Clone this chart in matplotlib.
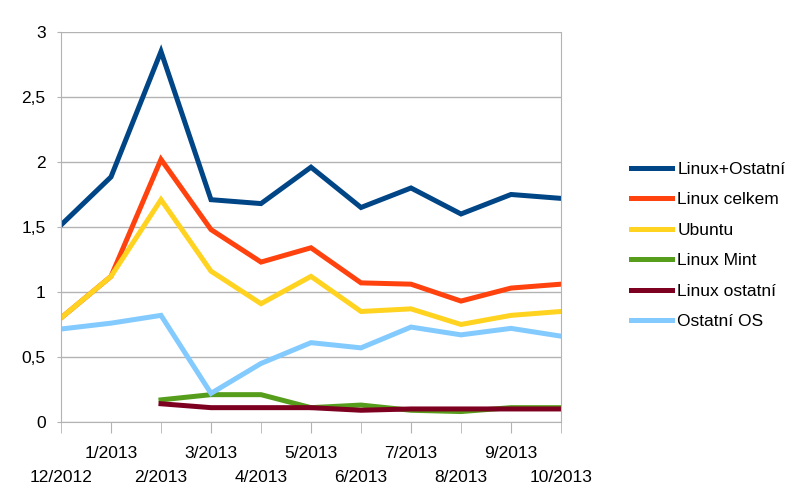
import numpy as np
import matplotlib.pyplot as plt
from matplotlib.ticker import FuncFormatter

plt.rcParams['font.family'] = ['Liberation Sans', 'DejaVu Sans']

# data
months = ['12/2012', '1/2013', '2/2013', '3/2013', '4/2013', '5/2013',
          '6/2013', '7/2013', '8/2013', '9/2013', '10/2013']
linux_ostatni_os = [1.515, 1.885, 2.85, 1.71, 1.68, 1.96, 1.65, 1.80, 1.60, 1.75, 1.72]
linux_celkem = [0.80, 1.12, 2.02, 1.48, 1.23, 1.34, 1.07, 1.06, 0.93, 1.03, 1.06]
ubuntu = [0.80, 1.12, 1.71, 1.16, 0.91, 1.12, 0.85, 0.87, 0.75, 0.82, 0.85]
linux_mint = [np.nan, np.nan, 0.17, 0.21, 0.21, 0.11, 0.13, 0.09, 0.08, 0.11, 0.11]
linux_ostatni = [np.nan, np.nan, 0.14, 0.11, 0.11, 0.11, 0.09, 0.10, 0.10, 0.10, 0.10]
ostatni_os = [0.715, 0.76, 0.82, 0.22, 0.45, 0.61, 0.57, 0.73, 0.67, 0.72, 0.66]

series = [('Linux+Ostatní', linux_ostatni_os, '#004586'),
          ('Linux celkem', linux_celkem, '#ff420e'),
          ('Ubuntu', ubuntu, '#ffd320'),
          ('Linux Mint', linux_mint, '#579d1c'),
          ('Linux ostatní', linux_ostatni, '#7e0021'),
          ('Ostatní OS', ostatni_os, '#83caff')]

fs = 12.5

fig = plt.figure(figsize=(8, 4.97), dpi=100)
ax = fig.add_axes([0.07625, 0.151, 0.625, 0.7846])

x = np.arange(len(months))
for name, vals, col in series:
    ax.plot(x, vals, color=col, linewidth=3.6, label=name, solid_joinstyle='miter')

ax.set_xlim(0, len(months) - 1)
ax.set_ylim(0, 3)
ax.set_yticks(np.arange(0, 3.01, 0.5))
ax.yaxis.set_major_formatter(FuncFormatter(lambda v, p: ('%g' % v).replace('.', ',')))
ax.grid(axis='y', color='#b3b3b3', linewidth=1)
ax.set_axisbelow(True)

# month labels on two rows: odd months on top row (major), even ones below (minor)
ax.set_xticks(x[1::2])
ax.set_xticklabels(months[1::2])
ax.set_xticks(x[0::2], minor=True)
ax.set_xticklabels(months[0::2], minor=True)
ax.tick_params(axis='x', which='both', length=8, color='#b3b3b3', labelsize=fs)
ax.tick_params(axis='x', which='major', pad=9)
ax.tick_params(axis='x', which='minor', pad=26.5)
ax.tick_params(axis='y', length=3, color='#b3b3b3', pad=8, labelsize=fs)

ax.spines['top'].set_visible(False)
for s in ['left', 'right', 'bottom']:
    ax.spines[s].set_color('#b3b3b3')

fig.legend(loc='center left', bbox_to_anchor=(0.789, 0.506), frameon=False,
           fontsize=fs, handlelength=2.35, handletextpad=0.3, labelspacing=0.88,
           borderpad=0, borderaxespad=0)

fig.savefig('out.png', dpi=100)
